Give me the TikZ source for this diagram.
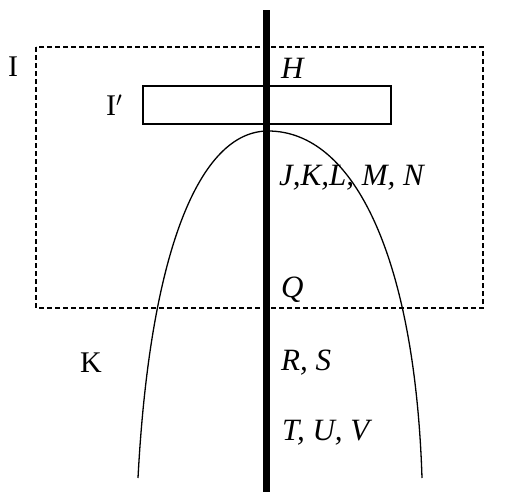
\documentclass[tikz,border=0pt]{standalone}
\usepackage{fontspec}
\setmainfont{Liberation Serif}
\usepackage{tikz}
\usetikzlibrary{positioning}

\begin{document}
\begin{tikzpicture}[
        x=1pt, y=-1pt,
        lbl/.style={anchor=west, inner sep=0pt, font=\fontsize{30}{33}\selectfont},
        ilbl/.style={lbl, font=\fontsize{31}{34}\selectfont\itshape},
        zone/.style={draw, line width=1.3pt, dash pattern=on 5pt off 3pt},
        plate/.style={draw, line width=1.2pt},
        curve/.style={draw, line width=1.3pt},
        axis/.style={draw, line width=7pt}
    ]
    \useasboundingbox (0,0) rectangle (506,493);

    % frames
    \draw[zone] (36,47) rectangle (483,308);
    \draw[plate] (143,86) rectangle (391,124);

    % arch
    \coordinate (footL) at (138,478);
    \coordinate (apex) at (268,131);
    \coordinate (footR) at (422,478);
    \draw[curve] (footL) .. controls (150,250) and (200,131) .. (apex)
        .. controls (355,131) and (415,260) .. (footR);

    % axis
    \coordinate (top) at (266,10);
    \coordinate (bot) at (266,492);
    \draw[axis] (top) -- (bot);

    % labels
    \node (zoneI) [lbl] at (8,67) {I};
    \node (plateI) [lbl] at (106,105) {I$'$};
    \node (kreg) [lbl] at (80,363) {K};
    \node (h) [ilbl] at (281,68) {H};
    \node (jklmn) [ilbl] at (279,178) {J,K,L, M, N};
    \node (q) [ilbl] at (281,290) {Q};
    \node (rs) [ilbl] at (281,363) {R, S};
    \node (tuv) [ilbl] at (282,433) {T, U, V};

\end{tikzpicture}
\end{document}
